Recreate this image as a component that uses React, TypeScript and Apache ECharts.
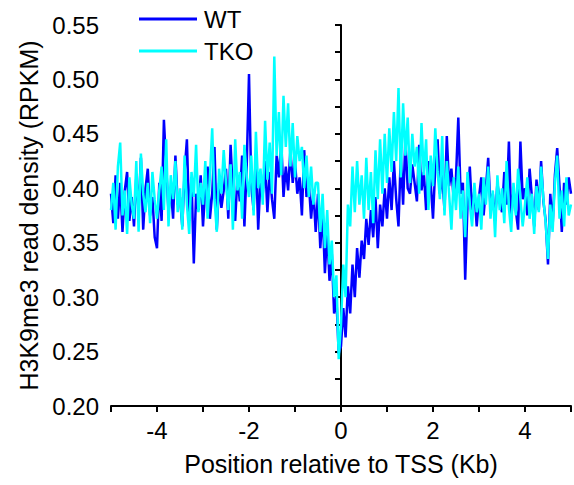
import React, { useEffect, useRef } from "react";
import * as echarts from "echarts";

const xStart = -5;
const xStep = 0.05;

const wtValues = [
  0.395, 0.368, 0.412, 0.372, 0.405, 0.360, 0.398, 0.415, 0.370, 0.392,
  0.365, 0.410, 0.380, 0.428, 0.362, 0.400, 0.418, 0.375, 0.392, 0.355,
  0.345, 0.405, 0.370, 0.463, 0.420, 0.378, 0.400, 0.372, 0.430, 0.385,
  0.392, 0.365, 0.415, 0.445, 0.370, 0.410, 0.331, 0.395, 0.380, 0.412,
  0.365, 0.400, 0.420, 0.372, 0.395, 0.438, 0.362, 0.405, 0.382, 0.398,
  0.418, 0.372, 0.440, 0.395, 0.370, 0.412, 0.388, 0.430, 0.365, 0.420,
  0.505, 0.402, 0.380, 0.432, 0.362, 0.410, 0.395, 0.425, 0.378, 0.415,
  0.390, 0.372, 0.430, 0.410, 0.445, 0.392, 0.420, 0.398, 0.435, 0.405,
  0.425, 0.395, 0.410, 0.375, 0.435, 0.392, 0.405, 0.372, 0.398, 0.360,
  0.395, 0.345, 0.380, 0.322, 0.362, 0.315, 0.340, 0.285, 0.300, 0.248,
  0.255, 0.290, 0.263, 0.310, 0.285, 0.330, 0.300, 0.345, 0.318, 0.352,
  0.335, 0.372, 0.348, 0.380, 0.355, 0.392, 0.345, 0.385, 0.365, 0.400,
  0.372, 0.410, 0.380, 0.425, 0.390, 0.365, 0.430, 0.385, 0.445, 0.400,
  0.395, 0.422, 0.405, 0.388, 0.440, 0.398, 0.415, 0.380, 0.425, 0.405,
  0.372, 0.420, 0.445, 0.395, 0.412, 0.380, 0.448, 0.402, 0.418, 0.390,
  0.410, 0.465, 0.395, 0.405, 0.316, 0.385, 0.420, 0.378, 0.398, 0.365,
  0.392, 0.410, 0.375, 0.400, 0.428, 0.382, 0.395, 0.370, 0.405, 0.388,
  0.378, 0.415, 0.385, 0.443, 0.372, 0.398, 0.380, 0.362, 0.443, 0.390,
  0.400, 0.375, 0.418, 0.392, 0.365, 0.408, 0.380, 0.425, 0.388, 0.370,
  0.330, 0.395, 0.365, 0.412, 0.437, 0.402, 0.360, 0.405, 0.385, 0.410,
  0.395,
];

const tkoValues = [
  0.380, 0.405, 0.362, 0.420, 0.442, 0.375, 0.398, 0.358, 0.410, 0.385,
  0.372, 0.425, 0.360, 0.432, 0.395, 0.378, 0.405, 0.368, 0.415, 0.390,
  0.372, 0.398, 0.420, 0.380, 0.445, 0.365, 0.412, 0.390, 0.425, 0.378,
  0.400, 0.362, 0.430, 0.385, 0.358, 0.415, 0.392, 0.440, 0.378, 0.405,
  0.385, 0.425, 0.372, 0.410, 0.455, 0.390, 0.360, 0.418, 0.395, 0.435,
  0.405, 0.380, 0.422, 0.362, 0.445, 0.398, 0.415, 0.372, 0.440, 0.410,
  0.392, 0.430, 0.375, 0.452, 0.400, 0.418, 0.385, 0.462, 0.408, 0.442,
  0.395, 0.521, 0.430, 0.470, 0.412, 0.485, 0.438, 0.478, 0.420, 0.460,
  0.410, 0.448, 0.425, 0.438, 0.400, 0.430, 0.392, 0.420, 0.385, 0.405,
  0.405, 0.360, 0.395, 0.345, 0.380, 0.330, 0.352, 0.300, 0.320, 0.243,
  0.275, 0.330, 0.300, 0.385, 0.365, 0.420, 0.378, 0.425, 0.385, 0.412,
  0.372, 0.428, 0.380, 0.415, 0.368, 0.435, 0.390, 0.445, 0.395, 0.450,
  0.405, 0.455, 0.415, 0.470, 0.425, 0.492, 0.410, 0.478, 0.430, 0.465,
  0.405, 0.450, 0.420, 0.438, 0.395, 0.460, 0.412, 0.445, 0.380, 0.430,
  0.402, 0.455, 0.415, 0.390, 0.448, 0.375, 0.425, 0.395, 0.362, 0.410,
  0.380, 0.420, 0.372, 0.398, 0.355, 0.415, 0.385, 0.365, 0.405, 0.378,
  0.395, 0.362, 0.410, 0.385, 0.420, 0.372, 0.398, 0.355, 0.412, 0.380,
  0.400, 0.368, 0.425, 0.382, 0.360, 0.405, 0.375, 0.418, 0.390, 0.365,
  0.385, 0.410, 0.372, 0.395, 0.358, 0.402, 0.378, 0.420, 0.390, 0.368,
  0.335, 0.385, 0.360, 0.405, 0.430, 0.372, 0.398, 0.365, 0.410, 0.375,
  0.385,
];

const seriesNames = ["WT", "TKO"];
const seriesColors = ["#0000FF", "#00FFFF"];

const toPairs = (vals: number[]) =>
  vals.map((v, i) => [Number((xStart + i * xStep).toFixed(2)), v]);

const FONT = 'Arial, "Liberation Sans", sans-serif';

export default function App() {
  const ref = useRef<HTMLDivElement>(null);
  useEffect(() => {
    if (!ref.current) return;
    const chart = echarts.init(ref.current, null, { renderer: "svg" });
    const axisCommon = {
      axisLine: { show: true, lineStyle: { color: "#000", width: 2 } },
      axisTick: { show: true, inside: false, length: 6, lineStyle: { color: "#000", width: 2 } },
      splitLine: { show: false },
      nameTextStyle: { color: "#000", fontSize: 25, fontFamily: FONT },
    };
    chart.setOption({
      animation: false,
      backgroundColor: "#fff",
      textStyle: { fontFamily: FONT },
      grid: { left: 111, right: 1, top: 25, bottom: 79, containLabel: false },
      legend: {
        orient: "vertical",
        left: 134,
        top: 2,
        itemWidth: 58,
        itemHeight: 3,
        itemGap: 8,
        icon: "rect",
        data: seriesNames,
        textStyle: { color: "#000", fontSize: 24, fontFamily: FONT, padding: [0, 0, 0, 2] },
      },
      xAxis: {
        type: "value",
        min: -5,
        max: 5,
        interval: 1,
        name: "Position relative to TSS (Kb)",
        nameLocation: "middle",
        nameGap: 45,
        ...axisCommon,
        axisLabel: {
          color: "#000",
          fontSize: 24,
          fontFamily: FONT,
          margin: 12,
          formatter: (v: number) => (Math.round(v) % 2 === 0 ? String(Math.round(v)) : ""),
        },
      },
      yAxis: {
        type: "value",
        min: 0.2,
        max: 0.55,
        interval: 0.025,
        name: "H3K9me3 read density (RPKM)",
        nameLocation: "middle",
        nameGap: 68,
        ...axisCommon,
        axisLabel: {
          color: "#000",
          fontSize: 24,
          fontFamily: FONT,
          margin: 12,
          formatter: (v: number) =>
            Math.round(v * 1000) % 50 === 0 ? v.toFixed(2) : "",
        },
      },
      series: [
        {
          name: seriesNames[0],
          type: "line",
          data: toPairs(wtValues),
          showSymbol: false,
          color: seriesColors[0],
          lineStyle: { width: 2.5, color: seriesColors[0] },
        },
        {
          name: seriesNames[1],
          type: "line",
          data: toPairs(tkoValues),
          showSymbol: false,
          color: seriesColors[1],
          lineStyle: { width: 2.5, color: seriesColors[1] },
        },
      ],
    });
    return () => chart.dispose();
  }, []);
  return (
    <div
      ref={ref}
      style={{ position: "fixed", left: 0, top: 0, width: 574, height: 485 }}
    />
  );
}
